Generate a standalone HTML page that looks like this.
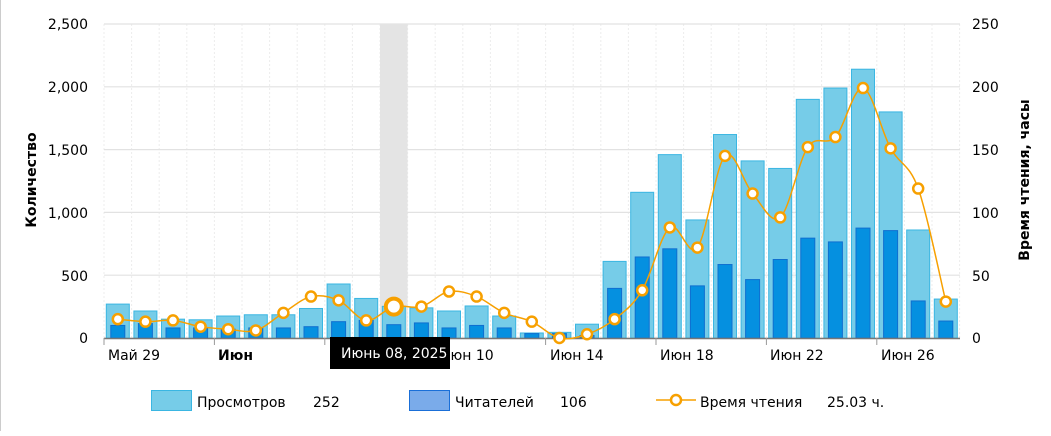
<!DOCTYPE html>
<html><head><meta charset="utf-8"><style>
body{margin:0;background:#fff;width:1051px;height:431px;overflow:hidden;font-family:"Liberation Sans",sans-serif}
svg text{font-family:"DejaVu Sans","Liberation Sans",sans-serif}
</style></head><body>
<svg id="s" width="1051" height="431" viewBox="0 0 1051 431" xmlns="http://www.w3.org/2000/svg">
<rect x="0" y="0" width="1051" height="431" fill="#fff"/>
<line x1="0.5" y1="0" x2="0.5" y2="431" stroke="#ccc"/>
<g id="grid"></g>
<rect x="380" y="24" width="27.6" height="314" fill="#e4e4e4"/>
<g id="bars"></g>
<line x1="104" y1="338.5" x2="960" y2="338.5" stroke="#777" stroke-width="1.5"/>
<g id="ticks" stroke="#999"></g>
<g id="line"></g>
<g font-size="14" fill="#000" text-anchor="end">
<text x="88" y="29">2,500</text><text x="88" y="92">2,000</text><text x="88" y="155">1,500</text>
<text x="88" y="218">1,000</text><text x="88" y="281">500</text><text x="88" y="343">0</text>
</g>
<g font-size="14" fill="#000">
<text x="972" y="29">250</text><text x="972" y="92">200</text><text x="972" y="155">150</text>
<text x="972" y="218">100</text><text x="972" y="281">50</text><text x="972" y="343">0</text>
</g>
<text transform="translate(36,180) rotate(-90)" text-anchor="middle" font-size="14" font-weight="bold">Количество</text>
<text transform="translate(1029,180) rotate(-90)" text-anchor="middle" font-size="14" font-weight="bold">Время чтения, часы</text>
<g font-size="14" fill="#000">
<text x="108" y="360">Май 29</text>
<text x="218" y="360" font-weight="bold">Июн</text>
<text x="440" y="360">Июн 10</text>
<text x="550" y="360">Июн 14</text>
<text x="660" y="360">Июн 18</text>
<text x="770" y="360">Июн 22</text>
<text x="881" y="360">Июн 26</text>
</g>
<rect x="330" y="337" width="120" height="32" fill="#000"/>
<text x="341" y="358" font-size="14" fill="#fff">Июнь 08, 2025</text>
<rect x="151.5" y="390.5" width="40" height="20" fill="#76cce8" stroke="#3ab6e2"/>
<text x="197" y="407" font-size="14">Просмотров</text><text x="313" y="407" font-size="14">252</text>
<rect x="409.5" y="390.5" width="40" height="20" fill="#7aabea" stroke="#1a6fd8"/>
<text x="455" y="407" font-size="14">Читателей</text><text x="560" y="407" font-size="14">106</text>
<line x1="656" y1="400" x2="696" y2="400" stroke="#f7a000" stroke-width="1.5"/>
<circle cx="676" cy="400" r="5" fill="#fff" stroke="#f7a000" stroke-width="2.5"/>
<text x="700" y="407" font-size="14">Время чтения</text><text x="827" y="407" font-size="14">25.03 ч.</text>
</svg>
<script>
var V=[270,215,150,145,175,185,185,235,430,315,252,240,215,255,175,40,45,110,610,1160,1460,940,1620,1410,1350,1900,1990,2140,1800,860,310];
var R=[100,115,80,80,70,80,80,90,130,140,106,120,80,100,80,35,35,20,395,645,710,415,585,465,625,795,765,875,855,295,135];
var H=[15,13,14,9,7,6,20,33,30,14,25,25,37,33,20,13,0,3,15,38,88,72,145,115,96,152,160,199,151,119,29];
var NS="http://www.w3.org/2000/svg";
function el(p,t,a){var e=document.createElementNS(NS,t);for(var k in a)e.setAttribute(k,a[k]);document.getElementById(p).appendChild(e);return e;}
var w=27.6,x0=104;
for(var i=0;i<=31;i++){el("grid","line",{x1:x0+i*w,y1:24,x2:x0+i*w,y2:338,stroke:"#ececec","stroke-dasharray":"2,2"});}
for(var j=0;j<=5;j++){var y=24+j*62.8;el("grid","line",{x1:104,y1:y,x2:960,y2:y,stroke:"#e2e2e2","stroke-width":1.2});}
for(var i=0;i<8;i++){var tx=x0+i*4*w;el("ticks","line",{x1:tx,y1:338,x2:tx,y2:345});}
var P=[];
for(var i=0;i<31;i++){var c=x0+w*(i+0.5);
var h=V[i]*0.1256;el("bars","rect",{x:c-11.5,y:338-h,width:23,height:h,fill:"#76cce8",stroke:"#3ab6e2","stroke-width":1});
var h2=R[i]*0.1256;el("bars","rect",{x:c-7,y:338-h2,width:14,height:h2,fill:"#0590e0",stroke:"#0f6fd0","stroke-width":1});
P.push([c,338-H[i]*1.256]);}
var d="M"+P[0][0]+","+P[0][1];
for(var i=0;i<P.length-1;i++){var p0=P[i-1]||P[i],p1=P[i],p2=P[i+1],p3=P[i+2]||P[i+1];
d+=" C"+(p1[0]+(p2[0]-p0[0])/6)+","+(p1[1]+(p2[1]-p0[1])/6)+" "+(p2[0]-(p3[0]-p1[0])/6)+","+(p2[1]-(p3[1]-p1[1])/6)+" "+p2[0]+","+p2[1];}
el("line","path",{d:d,fill:"none",stroke:"#f7a000","stroke-width":1.5});
for(var i=0;i<P.length;i++){var big=i==10;el("line","circle",{cx:P[i][0],cy:P[i][1],r:big?8:5,fill:"#fff",stroke:"#f7a000","stroke-width":big?4:2.5});}
</script>
</body></html>
